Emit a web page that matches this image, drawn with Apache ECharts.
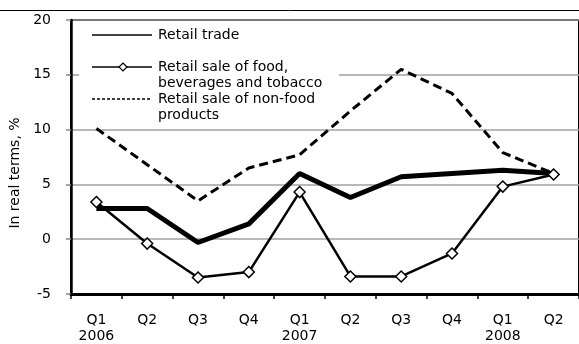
<!DOCTYPE html>
<html>
<head>
<meta charset="utf-8">
<script src="https://cdn.jsdelivr.net/npm/echarts@6/dist/echarts.min.js"></script>
<style>
  html, body { margin: 0; padding: 0; background: #fff; }
  #chart { width: 579px; height: 344px; }
</style>
</head>
<body>
<div id="chart"></div>
<script>
// Quarterly retail turnover growth, in real terms, %
var quarters = ['Q1\n2006', 'Q2', 'Q3', 'Q4', 'Q1\n2007', 'Q2', 'Q3', 'Q4', 'Q1\n2008', 'Q2'];
var seriesNames = [
  'Retail trade',
  'Retail sale of food,\nbeverages and tobacco',
  'Retail sale of non-food\nproducts'
];
var retailTrade = [2.8, 2.8, -0.3, 1.4, 6.0, 3.8, 5.7, 6.0, 6.3, 6.0];
var foodBevTobacco = [3.4, -0.4, -3.5, -3.0, 4.3, -3.4, -3.4, -1.3, 4.8, 5.9];
var nonFood = [10.1, 6.8, 3.5, 6.5, 7.7, 11.7, 15.5, 13.3, 7.9, 6.0];
var yTicks = { min: -5, max: 20, step: 5 };

var FONT = 'DejaVu Sans, sans-serif';
var FS = 14;

// Hand-drawn legend block (white panel, short line samples, wrapped labels)
function legendGraphic() {
  var items = [];
  var rowY = [35, 67, 99];
  var sampleX0 = 92, sampleX1 = 152, textX = 158;
  items.push({
    type: 'rect', left: 79, top: 21, z: 1,
    shape: { width: 260, height: 103 },
    style: { fill: '#fff' }
  });
  var styles = [
    { stroke: '#000', lineWidth: 1.3 },
    { stroke: '#000', lineWidth: 1.3 },
    { stroke: '#000', lineWidth: 1.3, lineDash: [3, 2] }
  ];
  seriesNames.forEach(function (name, i) {
    var y = rowY[i];
    items.push({
      type: 'line', z: 6,
      shape: { x1: sampleX0, y1: y, x2: sampleX1, y2: y },
      style: styles[i]
    });
    if (i === 1) {
      items.push({
        type: 'polygon', z: 7,
        shape: { points: [[123, y - 4], [127, y], [123, y + 4], [119, y]] },
        style: { fill: '#fff', stroke: '#000', lineWidth: 1.2 }
      });
    }
    items.push({
      type: 'text', z: 6, x: textX, y: y - 8,
      style: {
        text: name, fill: '#000', font: FS + 'px ' + FONT,
        lineHeight: 16, verticalAlign: 'top', align: 'left'
      }
    });
  });
  // thin frame rule above the plot
  items.push({
    type: 'line', z: 6,
    shape: { x1: 0, y1: 10.5, x2: 579, y2: 10.5 },
    style: { stroke: '#000', lineWidth: 1 }
  });
  return items;
}

var chart = echarts.init(document.getElementById('chart'), null, { renderer: 'canvas' });
chart.setOption({
  animation: false,
  backgroundColor: '#fff',
  textStyle: { fontFamily: FONT },
  grid: {
    left: 71, top: 20, right: -5, bottom: 46,
    show: true, borderColor: '#000', borderWidth: 2,
    containLabel: false
  },
  xAxis: {
    type: 'category',
    data: quarters,
    boundaryGap: true,
    axisLine: { onZero: false, lineStyle: { color: '#000', width: 3 } },
    axisTick: { show: true, interval: 0, length: 5, inside: false, lineStyle: { color: '#000', width: 1.5 } },
    axisLabel: {
      interval: 0, margin: 18, color: '#000',
      fontSize: FS, fontFamily: FONT, lineHeight: 16
    },
    splitLine: { show: false }
  },
  yAxis: {
    type: 'value',
    min: yTicks.min, max: yTicks.max, interval: yTicks.step,
    name: 'In real terms, %',
    nameLocation: 'middle',
    nameGap: 40,
    nameRotate: 90,
    nameTextStyle: { color: '#000', fontSize: FS, fontFamily: FONT, padding: [0, 32, 0, 0] },
    axisLine: { show: true, lineStyle: { color: '#000', width: 2.5 } },
    axisTick: { show: true, length: 5, lineStyle: { color: '#888', width: 1.5 } },
    axisLabel: { color: '#000', fontSize: FS, fontFamily: FONT, margin: 20 },
    splitLine: { show: true, lineStyle: { color: '#a0a0a0', width: 1.5 } }
  },
  graphic: legendGraphic(),
  series: [
    {
      name: seriesNames[2],
      type: 'line',
      data: nonFood,
      symbol: 'none',
      lineStyle: { color: '#000', width: 3, type: [9, 5] },
      z: 2
    },
    {
      name: seriesNames[0],
      type: 'line',
      data: retailTrade,
      symbol: 'none',
      lineStyle: { color: '#000', width: 5 },
      z: 3
    },
    {
      name: seriesNames[1],
      type: 'line',
      data: foodBevTobacco,
      symbol: 'diamond',
      symbolSize: [11, 11],
      itemStyle: { color: '#fff', borderColor: '#000', borderWidth: 1.5 },
      lineStyle: { color: '#000', width: 2.5 },
      z: 4
    }
  ]
});
</script>
</body>
</html>
